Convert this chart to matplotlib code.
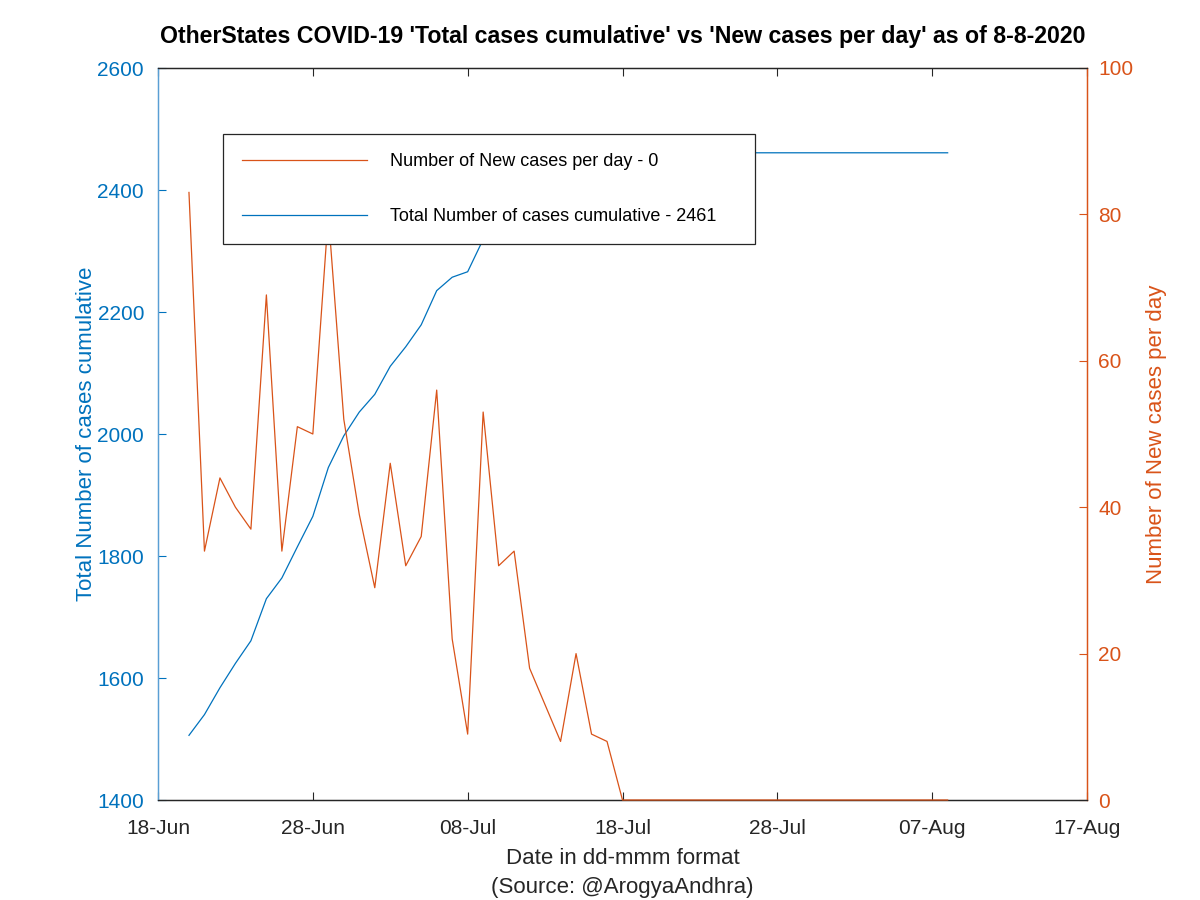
import matplotlib
matplotlib.use("Agg")
import matplotlib.pyplot as plt
import datetime as dt

plt.rcParams['font.family'] = ['Liberation Sans', 'DejaVu Sans']

# ---- data ----
dates = ["2020-06-20", "2020-06-21", "2020-06-22", "2020-06-23", "2020-06-24",
         "2020-06-25", "2020-06-26", "2020-06-27", "2020-06-28", "2020-06-29",
         "2020-06-30", "2020-07-01", "2020-07-02", "2020-07-03", "2020-07-04",
         "2020-07-05", "2020-07-06", "2020-07-07", "2020-07-08", "2020-07-09",
         "2020-07-10", "2020-07-11", "2020-07-12", "2020-07-13", "2020-07-14",
         "2020-07-15", "2020-07-16", "2020-07-17", "2020-07-18", "2020-07-19",
         "2020-07-20", "2020-07-21", "2020-07-22", "2020-07-23", "2020-07-24",
         "2020-07-25", "2020-07-26", "2020-07-27", "2020-07-28", "2020-07-29",
         "2020-07-30", "2020-07-31", "2020-08-01", "2020-08-02", "2020-08-03",
         "2020-08-04", "2020-08-05", "2020-08-06", "2020-08-07", "2020-08-08"]
new_cases = [83, 34, 44, 40, 37, 69, 34, 51, 50, 80,
             52, 39, 29, 46, 32, 36, 56, 22, 9, 53,
             32, 34, 18, 13, 8, 20, 9, 8, 0, 0,
             0, 0, 0, 0, 0, 0, 0, 0, 0, 0,
             0, 0, 0, 0, 0, 0, 0, 0, 0, 0]
total_cases = [1506, 1540, 1584, 1624, 1661, 1730, 1764, 1815, 1865, 1945,
               1997, 2036, 2065, 2111, 2143, 2179, 2235, 2257, 2266, 2319,
               2351, 2385, 2403, 2416, 2424, 2444, 2453, 2461, 2461, 2461,
               2461, 2461, 2461, 2461, 2461, 2461, 2461, 2461, 2461, 2461,
               2461, 2461, 2461, 2461, 2461, 2461, 2461, 2461, 2461, 2461]
xtick_labels = ["18-Jun", "28-Jun", "08-Jul", "18-Jul", "28-Jul", "07-Aug", "17-Aug"]
xtick_dates = ["2020-06-18", "2020-06-28", "2020-07-08", "2020-07-18",
               "2020-07-28", "2020-08-07", "2020-08-17"]
left_ticks = [1400, 1600, 1800, 2000, 2200, 2400, 2600]
right_ticks = [0, 20, 40, 60, 80, 100]

BLUE = "#0072BD"
ORANGE = "#D95319"
DARK = "#262626"

x = [dt.datetime.strptime(d, "%Y-%m-%d") for d in dates]
xt = [dt.datetime.strptime(d, "%Y-%m-%d") for d in xtick_dates]

fig = plt.figure(figsize=(12, 9), dpi=100)
ax = fig.add_axes([158/1200, 1 - 800/900, (1087-158)/1200, (800-68)/900])
ax2 = ax.twinx()

l1, = ax.plot(x, total_cases, color=BLUE, lw=0.9, zorder=3, clip_on=False)
l2, = ax2.plot(x, new_cases, color=ORANGE, lw=0.9, zorder=3, clip_on=False)

ax.set_xlim(xt[0], xt[-1])
ax.set_ylim(1400, 2600)
ax2.set_ylim(0, 100)
ax.set_xticks(xt)
ax.set_xticklabels(xtick_labels)
ax.set_yticks(left_ticks)
ax2.set_yticks(right_ticks)

ax.tick_params(axis='x', direction='in', top=True, length=6, colors=DARK,
               labelsize=15, pad=14)
ax.tick_params(axis='y', direction='in', length=6, colors=BLUE, labelsize=15, pad=10)
ax2.tick_params(axis='y', direction='in', length=6, colors=ORANGE, labelsize=15, pad=8)

for a in (ax, ax2):
    a.spines['top'].set_color(DARK)
    a.spines['bottom'].set_color(DARK)
    a.spines['left'].set_color("#5a9fd4")
    a.spines['right'].set_color(ORANGE)
    for s in a.spines.values():
        s.set_linewidth(0.9)

ax.set_ylabel("Total Number of cases cumulative", color=BLUE, fontsize=16, labelpad=0)
ax2.set_ylabel("Number of New cases per day", color=ORANGE, fontsize=16, labelpad=9)
ax.set_xlabel("Date in dd-mmm format\n(Source: @ArogyaAndhra)", color=DARK,
              fontsize=16, labelpad=7, linespacing=1.5)

ax.set_title("OtherStates COVID-19 'Total cases cumulative' vs 'New cases per day' as of 8-8-2020",
             fontsize=16.7, fontweight='bold', pad=18)

leg = ax2.legend([l2, l1],
                 ["Number of New cases per day - 0",
                  "Total Number of cases cumulative - 2461    "],
                 loc='upper left', bbox_to_anchor=((223-158)/929, 1 - (134-68)/732),
                 fontsize=13, frameon=True, fancybox=False, edgecolor=DARK,
                 framealpha=1, handlelength=6.9, handletextpad=1.3, labelspacing=2.1,
                 borderpad=1.05, borderaxespad=0)
leg.get_frame().set_linewidth(0.9)
leg.set_zorder(5)

fig.savefig("out.png", dpi=100, facecolor='white')
